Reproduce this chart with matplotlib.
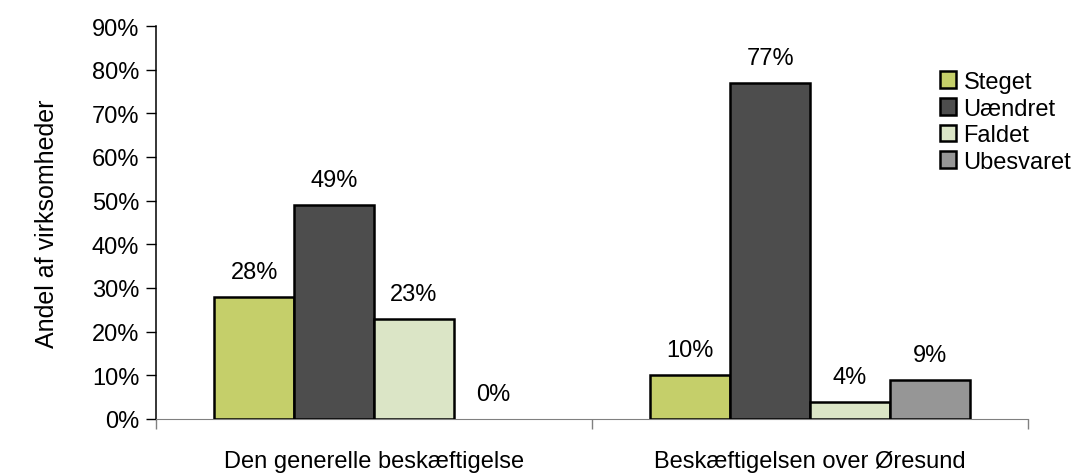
import matplotlib
matplotlib.use("Agg")
import matplotlib.pyplot as plt
from matplotlib import font_manager
import numpy as np

categories = ["Den generelle beskæftigelse", "Beskæftigelsen over Øresund"]
series = ["Steget", "Uændret", "Faldet", "Ubesvaret"]
steget = [28, 10]
uaendret = [49, 77]
faldet = [23, 4]
ubesvaret = [0, 9]
yticks = [0, 10, 20, 30, 40, 50, 60, 70, 80, 90]

colors = ["#C5CF6A", "#4D4D4D", "#DBE5C6", "#969696"]

names = {f.name for f in font_manager.fontManager.ttflist}
fam = "Liberation Sans Narrow" if "Liberation Sans Narrow" in names else "Liberation Sans"
plt.rcParams["font.family"] = [fam, "DejaVu Sans"]

fig = plt.figure(figsize=(10.75, 4.77), dpi=100)
ax = fig.add_axes([156/1075, 57/477, (1028-156)/1075, (420-27)/477])

values = [steget, uaendret, faldet, ubesvaret]
w = 0.183
for j, (name, vals) in enumerate(zip(series, values)):
    xs = np.arange(len(categories)) + 0.5 + (j - 1.5) * w
    lws = [1.8 if v > 0 else 0 for v in vals]
    bars = ax.bar(xs, vals, width=w, color=colors[j], edgecolor="black",
                  linewidth=lws, label=name, zorder=3)
    for b, v in zip(bars, vals):
        ax.annotate(f"{v}%", (b.get_x() + b.get_width()/2, v),
                    xytext=(0, 10), textcoords="offset points",
                    ha="center", va="bottom", fontsize=17)

ax.set_xlim(0, 2)
ax.set_ylim(0, 90)
ax.set_yticks(yticks)
ax.set_yticklabels([f"{t}%" for t in yticks], fontsize=17)
ax.set_xticks([0, 1, 2])
ax.set_xticklabels(["", "", ""])
ax.set_xticks([0.5, 1.5], minor=True)
ax.set_xticklabels(categories, minor=True, fontsize=17)
ax.tick_params(axis="x", which="major", length=7, width=1, color="#808080", direction="out")
ax.tick_params(axis="x", which="minor", length=0, pad=22)
ax.tick_params(axis="y", length=7, width=1, direction="out", pad=5)
ax.spines["top"].set_visible(False)
ax.spines["right"].set_visible(False)
ax.spines["bottom"].set_color("#808080")
ax.spines["left"].set_linewidth(1.1)
ax.set_ylabel("Andel af virksomheder", fontsize=18, labelpad=24)

leg = ax.legend(loc="upper left", bbox_to_anchor=(928/1075, (477-60)/477),
                bbox_transform=fig.transFigure, frameon=False, fontsize=17,
                handlelength=0.7, handleheight=0.7, handletextpad=0.3,
                labelspacing=0.2, borderpad=0)
for h in leg.legend_handles:
    h.set_linewidth(1.8)

fig.savefig("out.png", dpi=100)
